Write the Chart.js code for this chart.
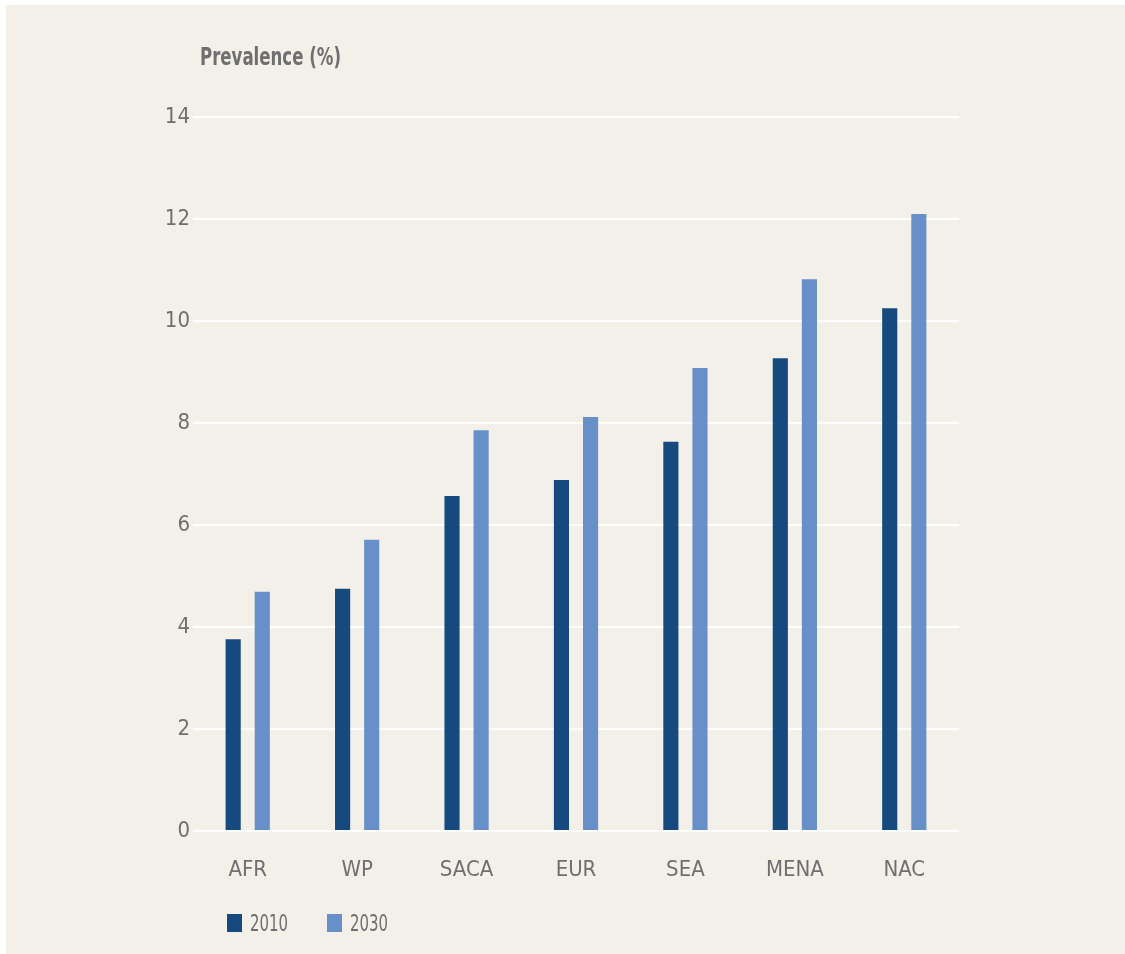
<!DOCTYPE html>
<html>
<head>
<meta charset="utf-8">
<title>Prevalence by region</title>
<script src="https://cdn.jsdelivr.net/npm/chart.js@4/dist/chart.umd.min.js"></script>
<style>
  html, body { margin: 0; padding: 0; background: #ffffff; overflow: hidden; }
  #panel {
    position: absolute; left: 6px; top: 5px; width: 1300px; height: 1100px;
    background: #f3f0ea;
  }
  #wrap { position: absolute; left: 0; top: 0; width: 1125px; height: 954px; }
</style>
</head>
<body>
<div id="panel"></div>
<div id="wrap"><canvas id="prevChart"></canvas></div>
<script>
const regions = ['AFR', 'WP', 'SACA', 'EUR', 'SEA', 'MENA', 'NAC'];
const prev2010 = [3.76, 4.75, 6.57, 6.88, 7.63, 9.27, 10.25];
const prev2030 = [4.69, 5.71, 7.86, 8.12, 9.08, 10.82, 12.1];
const yTicks = [0, 2, 4, 6, 8, 10, 12, 14];

const FONT = '"DejaVu Sans Condensed", Roboto, sans-serif';
const GREY = '#6f6f6f';

// narrow text helper: squeeze horizontally to a given width
function narrowText(ctx, text, x, y, w) {
    const natural = ctx.measureText(text).width;
    const k = Math.min(1, w / natural);
    ctx.save();
    ctx.translate(x, y);
    ctx.scale(k, 1);
    ctx.fillText(text, 0, 0);
    ctx.restore();
}

// title top-left and the little square legend under the axis
const extras = {
    id: 'extras',
    afterDraw(chart) {
        const ctx = chart.ctx;
        ctx.save();
        ctx.fillStyle = GREY;
        ctx.font = 'bold 24px ' + FONT;
        ctx.textBaseline = 'middle';
        ctx.textAlign = 'left';
        narrowText(ctx, 'Prevalence (%)', 200, 59, 141);

        ctx.font = '23px ' + FONT;
        chart.data.datasets.forEach(function (ds, i) {
            const x = 227 + i * 100;
            ctx.fillStyle = ds.backgroundColor;
            ctx.fillRect(x, 914, 15, 18);
            ctx.fillStyle = GREY;
            narrowText(ctx, ds.label, x + 23, 925, 38);
        });
        ctx.restore();
    }
};

let chartEl = document.getElementById('prevChart').getContext('2d');

let prevChart = new Chart(chartEl, {
    type: 'bar',
    data: {
        labels: regions,
        datasets: [
            {
                label: '2010',
                data: prev2010,
                backgroundColor: '#164a7e',
                categoryPercentage: 0.532,
                barPercentage: 0.52
            },
            {
                label: '2030',
                data: prev2030,
                backgroundColor: '#6790c8',
                categoryPercentage: 0.532,
                barPercentage: 0.52
            }
        ]
    },
    options: {
        responsive: true,
        maintainAspectRatio: false,
        animation: false,
        layout: {
            padding: { left: 0, right: 166, top: 117, bottom: 0 }
        },
        plugins: {
            legend: { display: false },
            tooltip: { enabled: false }
        },
        scales: {
            x: {
                grid: { display: false, drawTicks: false },
                border: { display: false },
                ticks: {
                    color: GREY,
                    padding: 26,
                    font: { family: FONT, size: 22 }
                },
                afterFit: function (s) { s.height = 123; }
            },
            y: {
                min: 0,
                max: 14,
                afterBuildTicks: function (s) {
                    s.ticks = yTicks.map(function (v) { return { value: v }; });
                },
                grid: { color: '#ffffff', lineWidth: 2, drawTicks: false },
                border: { display: false },
                ticks: {
                    color: GREY,
                    padding: 3,
                    font: { family: FONT, size: 22 }
                },
                afterFit: function (s) { s.width = 193; }
            }
        }
    },
    plugins: [extras]
});
</script>
</body>
</html>
